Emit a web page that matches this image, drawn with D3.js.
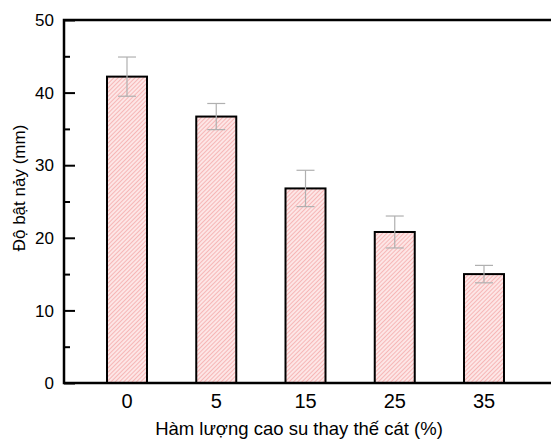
<!DOCTYPE html>
<html>
<head>
<meta charset="utf-8">
<script src="https://cdn.jsdelivr.net/npm/d3@7"></script>
<style>
  body { margin: 0; background: #fff; }
  text { font-family: "Liberation Sans", Arial, sans-serif; }
</style>
</head>
<body>
<svg width="551" height="440"></svg>
<script>
var categories = ["0", "5", "15", "25", "35"];
var values = [42.2, 36.7, 26.8, 20.8, 15.0];
var errors = [2.7, 1.8, 2.5, 2.2, 1.2];
var yTicks = [0, 10, 20, 30, 40, 50];

var svg = d3.select("svg");

var plotLeft = 64, plotTop = 20, plotBottom = 383, plotRight = 560;

// x by index, so the bars keep the spacing of the original
var x = d3.scaleLinear().domain([0, 4]).range([127, 484]);
var y = d3.scaleLinear().domain([0, 50]).range([plotBottom, plotTop]);
var barW = 40;

// hatched fill
var defs = svg.append("defs");
var pat = defs.append("pattern")
    .attr("id", "hatch")
    .attr("patternUnits", "userSpaceOnUse")
    .attr("width", 3)
    .attr("height", 3)
    .attr("patternTransform", "rotate(45)");
pat.append("rect").attr("width", 3).attr("height", 3).attr("fill", "#fde6e6");
pat.append("line")
    .attr("x1", 0).attr("y1", 0).attr("x2", 0).attr("y2", 3)
    .attr("stroke", "#f4a8a8").attr("stroke-width", 1.5);

// bars
svg.append("g")
  .selectAll("rect")
  .data(values)
  .enter().append("rect")
    .attr("x", (d, i) => x(i) - barW / 2)
    .attr("y", d => y(d))
    .attr("width", barW)
    .attr("height", d => y(0) - y(d))
    .attr("fill", "url(#hatch)")
    .attr("stroke", "#000")
    .attr("stroke-width", 2);

// error bars
var eb = svg.append("g")
  .attr("stroke", "#b0b0b0")
  .attr("stroke-width", 1.2)
  .selectAll("g")
  .data(values)
  .enter().append("g");
eb.append("line")
    .attr("x1", (d, i) => x(i)).attr("x2", (d, i) => x(i))
    .attr("y1", (d, i) => y(d + errors[i]))
    .attr("y2", (d, i) => y(d - errors[i]));
eb.append("line")
    .attr("x1", (d, i) => x(i) - 9).attr("x2", (d, i) => x(i) + 9)
    .attr("y1", (d, i) => y(d + errors[i]))
    .attr("y2", (d, i) => y(d + errors[i]));
eb.append("line")
    .attr("x1", (d, i) => x(i) - 9).attr("x2", (d, i) => x(i) + 9)
    .attr("y1", (d, i) => y(d - errors[i]))
    .attr("y2", (d, i) => y(d - errors[i]));

// y axis: inward ticks, minor at 5s
var yAxis = d3.axisRight(y)
    .tickValues(yTicks)
    .tickSize(11)
    .tickFormat("");
svg.append("g")
    .attr("transform", "translate(" + plotLeft + ",0)")
    .call(yAxis)
    .call(g => g.select(".domain").remove())
    .selectAll("line").attr("stroke", "#000").attr("stroke-width", 2);

var yMinor = d3.axisRight(y)
    .tickValues(yTicks.slice(0, -1).map(v => v + 5))
    .tickSize(6)
    .tickFormat("");
svg.append("g")
    .attr("transform", "translate(" + plotLeft + ",0)")
    .call(yMinor)
    .call(g => g.select(".domain").remove())
    .selectAll("line").attr("stroke", "#000").attr("stroke-width", 2);

svg.append("g")
  .selectAll("text")
  .data(yTicks)
  .enter().append("text")
    .attr("x", 54)
    .attr("y", d => y(d))
    .attr("dy", "0.36em")
    .attr("text-anchor", "end")
    .attr("font-size", 17)
    .text(d => d);

// frame: left, top, bottom
svg.append("path")
    .attr("d", "M" + plotRight + "," + plotTop + "H" + plotLeft + "V" + plotBottom + "H" + plotRight)
    .attr("fill", "none")
    .attr("stroke", "#000")
    .attr("stroke-width", 2.5);

// x labels
svg.append("g")
  .selectAll("text")
  .data(categories)
  .enter().append("text")
    .attr("x", (d, i) => x(i))
    .attr("y", 408)
    .attr("text-anchor", "middle")
    .attr("font-size", 20)
    .text(d => d);

svg.append("text")
    .attr("x", 299)
    .attr("y", 435)
    .attr("text-anchor", "middle")
    .attr("font-size", 18.5)
    .text("Hàm lượng cao su thay thế cát (%)");

svg.append("text")
    .attr("transform", "translate(25,188) rotate(-90)")
    .attr("text-anchor", "middle")
    .attr("font-size", 17)
    .text("Độ bật nảy (mm)");
</script>
</body>
</html>
